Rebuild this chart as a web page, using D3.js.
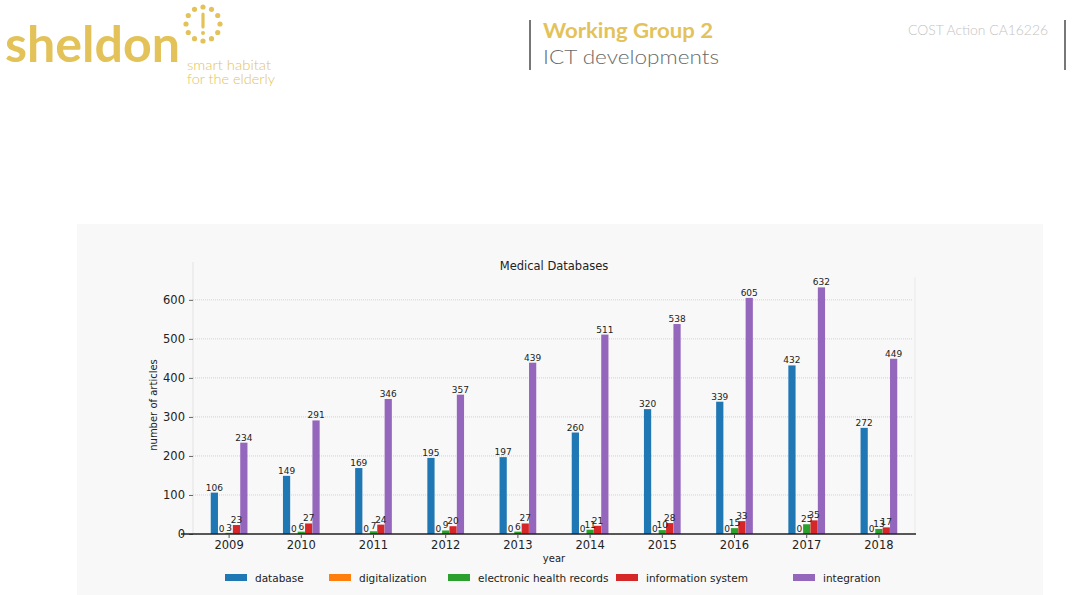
<!DOCTYPE html>
<html>
<head>
<meta charset="utf-8">
<script src="https://cdn.jsdelivr.net/npm/d3@7"></script>
<style>
  html, body { margin: 0; padding: 0; background: #fff; }
  svg { display: block; }
</style>
</head>
<body>
<svg id="chart" width="1073" height="595"></svg>
<script>
// Medical Databases — articles per year and keyword
const YEARS = ['2009','2010','2011','2012','2013','2014','2015','2016','2017','2018'];
const SERIES = ['database','digitalization','electronic health records','information system','integration'];
const DATABASE       = [106, 149, 169, 195, 197, 260, 320, 339, 432, 272];
const DIGITALIZATION = [0, 0, 0, 0, 0, 0, 0, 0, 0, 0];
const EHR            = [3, 6, 7, 9, 6, 11, 10, 15, 25, 13];
const INFO_SYSTEM    = [23, 27, 24, 20, 27, 21, 28, 33, 35, 17];
const INTEGRATION    = [234, 291, 346, 357, 439, 511, 538, 605, 632, 449];
const Y_TICKS = [0, 100, 200, 300, 400, 500, 600];

const COLORS = ['#1f77b4', '#ff7f0e', '#2ca02c', '#d62728', '#9467bd'];
const GOLD = '#e3c359';
const MPL_FONT = 'DejaVu Sans, sans-serif';

const values = [DATABASE, DIGITALIZATION, EHR, INFO_SYSTEM, INTEGRATION];

const svg = d3.select('#chart');

// ---------- header ----------
const head = svg.append('g');

head.append('text')
  .attr('x', 5).attr('y', 62)
  .attr('font-family', 'Lato, sans-serif')
  .attr('font-weight', 700)
  .attr('font-size', 50)
  .attr('fill', GOLD)
  .attr('textLength', 175)
  .attr('lengthAdjust', 'spacingAndGlyphs')
  .text('sheldon');

// dotted ring with exclamation mark
const icon = head.append('g').attr('transform', 'translate(203,24)');
d3.range(12).forEach(i => {
  const a = i / 12 * 2 * Math.PI;
  icon.append('circle')
    .attr('cx', 17 * Math.sin(a)).attr('cy', -17 * Math.cos(a))
    .attr('r', 2.6).attr('fill', GOLD);
});
icon.append('line')
  .attr('x1', 0).attr('x2', 0).attr('y1', -10).attr('y2', 3)
  .attr('stroke', GOLD).attr('stroke-width', 3.2).attr('stroke-linecap', 'round');
icon.append('circle').attr('cx', 0).attr('cy', 9).attr('r', 2).attr('fill', GOLD);

head.append('text')
  .attr('x', 187).attr('y', 70)
  .attr('font-family', 'Lato, sans-serif').attr('font-weight', 300)
  .attr('font-size', 13).attr('fill', GOLD)
  .attr('textLength', 84).attr('lengthAdjust', 'spacingAndGlyphs')
  .text('smart habitat');
head.append('text')
  .attr('x', 187).attr('y', 84)
  .attr('font-family', 'Lato, sans-serif').attr('font-weight', 300)
  .attr('font-size', 13).attr('fill', GOLD)
  .attr('textLength', 88).attr('lengthAdjust', 'spacingAndGlyphs')
  .text('for the elderly');

head.append('rect').attr('x', 529).attr('y', 20).attr('width', 2).attr('height', 50).attr('fill', '#777');
head.append('rect').attr('x', 1064).attr('y', 20).attr('width', 2).attr('height', 50).attr('fill', '#777');

head.append('text')
  .attr('x', 543).attr('y', 38)
  .attr('font-family', 'Lato, sans-serif').attr('font-weight', 700)
  .attr('font-size', 20).attr('fill', GOLD)
  .attr('textLength', 170).attr('lengthAdjust', 'spacingAndGlyphs')
  .text('Working Group 2');
head.append('text')
  .attr('x', 543).attr('y', 64)
  .attr('font-family', 'Lato, sans-serif').attr('font-weight', 300)
  .attr('font-size', 20).attr('fill', '#6a6a6a')
  .attr('textLength', 176).attr('lengthAdjust', 'spacingAndGlyphs')
  .text('ICT developments');
head.append('text')
  .attr('x', 908).attr('y', 35)
  .attr('font-family', 'Lato, sans-serif').attr('font-weight', 300)
  .attr('font-size', 13).attr('fill', '#c4c4c4')
  .attr('textLength', 140).attr('lengthAdjust', 'spacingAndGlyphs')
  .text('COST Action CA16226');

// ---------- chart panel ----------
svg.append('rect')
  .attr('x', 77).attr('y', 224).attr('width', 966).attr('height', 371)
  .attr('fill', '#f8f8f8');

const plot = { left: 193, right: 915, top: 262, bottom: 534 };

const x = d3.scaleBand().domain(YEARS).range([plot.left, plot.right]).padding(0);
const inner = d3.scaleBand().domain(SERIES).range([-18.5, 18.5]).padding(0.02);
const y = d3.scaleLinear().domain([0, 697]).range([plot.bottom, plot.top]);

const g = svg.append('g');

// plot frame (faint)
g.append('line')
  .attr('x1', plot.left).attr('x2', plot.left)
  .attr('y1', plot.top).attr('y2', plot.bottom)
  .attr('stroke', '#e6e6e6').attr('stroke-width', 1.2);
g.append('line')
  .attr('x1', plot.right).attr('x2', plot.right)
  .attr('y1', plot.top + 15).attr('y2', plot.bottom)
  .attr('stroke', '#ececec').attr('stroke-width', 1.2);

// grid
g.append('g').selectAll('line')
  .data(Y_TICKS.filter(t => t > 0))
  .join('line')
  .attr('x1', plot.left).attr('x2', plot.right - 2)
  .attr('y1', d => y(d)).attr('y2', d => y(d))
  .attr('stroke', '#c8c8c8').attr('stroke-width', 0.8)
  .attr('stroke-dasharray', '1,1');

// y axis
const yAxis = g.append('g')
  .attr('transform', `translate(${plot.left},0)`)
  .call(d3.axisLeft(y).tickValues(Y_TICKS).tickSize(4).tickPadding(4));
yAxis.select('.domain').remove();
yAxis.selectAll('.tick line').attr('stroke', '#666');
yAxis.selectAll('.tick text')
  .attr('font-family', MPL_FONT).attr('font-size', 11.5).attr('fill', '#222');

// bars
const groups = g.append('g').selectAll('g')
  .data(YEARS)
  .join('g')
  .attr('transform', d => `translate(${x(d) + x.bandwidth() / 2},0)`);

groups.selectAll('rect')
  .data((yr, i) => SERIES.map((s, k) => ({ s, k, v: values[k][i] })))
  .join('rect')
  .attr('x', d => inner(d.s))
  .attr('width', inner.bandwidth())
  .attr('y', d => y(d.v))
  .attr('height', d => y(0) - y(d.v))
  .attr('fill', d => COLORS[d.k]);

groups.selectAll('text.val')
  .data((yr, i) => SERIES.map((s, k) => ({ s, k, v: values[k][i] })))
  .join('text')
  .attr('class', 'val')
  .attr('x', d => inner(d.s) + inner.bandwidth() / 2)
  .attr('y', d => y(d.v) - 2)
  .attr('text-anchor', 'middle')
  .attr('font-family', MPL_FONT).attr('font-size', 9).attr('fill', '#222')
  .text(d => d.v);

// x axis
const xAxis = g.append('g')
  .attr('transform', `translate(0,${plot.bottom})`)
  .call(d3.axisBottom(x).tickSize(4).tickPadding(3));
xAxis.select('.domain')
  .attr('d', `M${plot.left - 12},0H${plot.right + 1}`)
  .attr('stroke', '#222').attr('stroke-width', 1.3);
xAxis.selectAll('.tick line').attr('stroke', '#555');
xAxis.selectAll('.tick text')
  .attr('font-family', MPL_FONT).attr('font-size', 11.5).attr('fill', '#222');

// titles
svg.append('text')
  .attr('x', (plot.left + plot.right) / 2).attr('y', 270)
  .attr('text-anchor', 'middle')
  .attr('font-family', MPL_FONT).attr('font-size', 11.5).attr('fill', '#222')
  .text('Medical Databases');
svg.append('text')
  .attr('x', (plot.left + plot.right) / 2).attr('y', 562)
  .attr('text-anchor', 'middle')
  .attr('font-family', MPL_FONT).attr('font-size', 10).attr('fill', '#222')
  .text('year');
svg.append('text')
  .attr('transform', 'translate(157,405) rotate(-90)')
  .attr('text-anchor', 'middle')
  .attr('font-family', MPL_FONT).attr('font-size', 10).attr('fill', '#222')
  .text('number of articles');

// legend
const LEGEND_X = [225, 329, 448, 616, 793];
const legend = svg.append('g').attr('transform', 'translate(0,578)');
const item = legend.selectAll('g')
  .data(SERIES)
  .join('g')
  .attr('transform', (d, i) => `translate(${LEGEND_X[i]},0)`);
item.append('rect')
  .attr('x', 0).attr('y', -4).attr('width', 22).attr('height', 7)
  .attr('fill', (d, i) => COLORS[i]);
item.append('text')
  .attr('x', 30).attr('y', 3.5)
  .attr('font-family', MPL_FONT).attr('font-size', 10.5).attr('fill', '#222')
  .text(d => d);
</script>
</body>
</html>
